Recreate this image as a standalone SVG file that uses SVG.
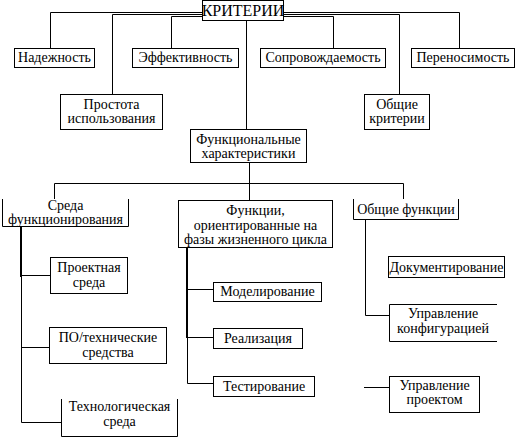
<svg xmlns="http://www.w3.org/2000/svg" width="516" height="437" viewBox="0 0 516 437" font-family="'Liberation Serif', 'Times New Roman', 'DejaVu Serif', serif">
<style>
.b{fill:#fff;stroke:#000;stroke-width:1}
.o{fill:none;stroke:#000;stroke-width:1}
.c{fill:none;stroke:#000;stroke-width:1}
.t{stroke:#000;stroke-width:2;fill:none}
text{font-family:'Liberation Serif','Times New Roman','DejaVu Serif',serif;font-size:14px;fill:#000;text-anchor:middle}
.h{font-size:16px}
</style>
<rect width="516" height="437" fill="#fff"/>
<g id="connectors">
<path class="c" d="M202 12.5H50.5V48"/>
<path class="c" d="M202 14.5H112.5V94"/>
<path class="c" d="M202 16.5H171.5V48"/>
<path class="c" d="M284 12.5H459.5V48"/>
<path class="c" d="M284 14.5H399.5V94"/>
<path class="c" d="M284 16.5H333.5V48"/>
<path class="c" d="M246.5 21V129"/>
<path class="c" d="M249.5 162V200"/>
<path class="c" d="M54.5 199V183.5H403.5V199"/>
<path class="c" d="M21.5 276V422.5H61"/>
<path class="t" d="M21 227V277"/>
<path class="c" d="M21 275.5H50"/>
<path class="c" d="M21 347.5H49"/>
<path class="c" d="M187.5 337V383.5H213"/>
<path class="t" d="M187 248V338"/>
<path class="c" d="M187 289.5H213"/>
<path class="c" d="M187 337.5H213"/>
<path class="c" d="M365.5 220V315.5H389"/>
<path class="c" d="M364 387.5H389"/>
</g>
<g id="n-kriterii"><rect class="b" x="202.5" y="0.5" width="81" height="20"/><text class="h" x="243" y="16">КРИТЕРИИ</text></g>
<g id="n-nadezhnost"><rect class="b" x="14.5" y="48.5" width="80" height="19"/><text x="54.5" y="62">Надежность</text></g>
<g id="n-effektivnost"><rect class="b" x="132.5" y="48.5" width="106" height="19"/><text x="185.5" y="62">Эффективность</text></g>
<g id="n-soprovozhdaemost"><rect class="b" x="260.5" y="48.5" width="125" height="19"/><text x="323" y="62">Сопровождаемость</text></g>
<g id="n-perenosimost"><rect class="b" x="411.5" y="48.5" width="103" height="19"/><text x="463" y="62">Переносимость</text></g>
<g id="n-prostota"><rect class="b" x="60.5" y="94.5" width="102" height="35"/><text x="111.5" y="109">Простота</text><text x="111.5" y="123">использования</text></g>
<g id="n-obshchie-kriterii"><rect class="b" x="364.5" y="94.5" width="65" height="35"/><text x="397" y="109">Общие</text><text x="397" y="123">критерии</text></g>
<g id="n-funkcionalnye"><rect class="b" x="190.5" y="129.5" width="116" height="33"/><text x="248.5" y="144">Функциональные</text><text x="248.5" y="158">характеристики</text></g>
<g id="n-sreda"><path class="o" d="M2.5 199V226.5H128.5V199"/><text x="65.5" y="210">Среда</text><text x="65.5" y="224">функционирования</text></g>
<g id="n-funkcii"><rect class="b" x="178.5" y="200.5" width="154" height="47"/><text x="255.5" y="215">Функции,</text><text x="255.5" y="230">ориентированные на</text><text x="255.5" y="244">фазы жизненного цикла</text></g>
<g id="n-obshchie-funkcii"><path class="o" d="M353.5 199V219.5H458.5V199"/><text x="406" y="214">Общие функции</text></g>
<g id="n-proektnaya"><rect class="b" x="50.5" y="257.5" width="77" height="36"/><text x="89" y="272">Проектная</text><text x="89" y="287">среда</text></g>
<g id="n-po"><rect class="b" x="49.5" y="327.5" width="117" height="36"/><text x="108" y="342">ПО/технические</text><text x="108" y="357">средства</text></g>
<g id="n-tekhnologicheskaya"><path class="o" d="M61.5 399V436.5H177.5V399"/><text x="119.5" y="411">Технологическая</text><text x="119.5" y="426">среда</text></g>
<g id="n-modelirovanie"><rect class="b" x="213.5" y="282.5" width="108" height="19"/><text x="267.5" y="296">Моделирование</text></g>
<g id="n-realizaciya"><rect class="b" x="213.5" y="328.5" width="89" height="20"/><text x="258" y="343">Реализация</text></g>
<g id="n-testirovanie"><rect class="b" x="213.5" y="376.5" width="101" height="20"/><text x="264" y="391">Тестирование</text></g>
<g id="n-dokumentirovanie"><rect class="b" x="388.5" y="256.5" width="116" height="21"/><text x="446.5" y="272">Документирование</text></g>
<g id="n-upr-konfig"><path class="o" d="M497 304.5H389.5V341.5H497"/><text x="443" y="318">Управление</text><text x="443" y="333">конфигурацией</text></g>
<g id="n-upr-proekt"><rect class="b" x="389.5" y="376.5" width="90" height="36"/><text x="434.5" y="390">Управление</text><text x="434.5" y="404">проектом</text></g>
</svg>
